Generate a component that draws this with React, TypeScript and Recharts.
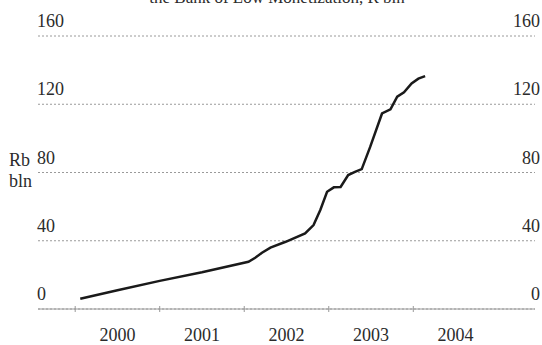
import { LineChart, Line, XAxis, YAxis, CartesianGrid } from 'recharts';

// decimal years and Rb bln
const times = [
  2000.06, 2000.5, 2001.0, 2001.5, 2002.05, 2002.13, 2002.21, 2002.31, 2002.49, 2002.72,
  2002.82, 2002.9, 2002.98, 2003.06, 2003.14, 2003.23, 2003.31, 2003.39, 2003.49, 2003.63,
  2003.73, 2003.81, 2003.89, 2003.98, 2004.06, 2004.14,
];
const values = [
  6, 11, 16.5, 21.5, 27.7, 30, 33, 36, 39.4, 44.3,
  49.2, 58, 68.7, 71.3, 71.5, 78.5, 80.4, 82, 95, 114.6,
  117, 124.4, 127, 132.2, 135, 136.5,
];
const yearTicks = [2000, 2001, 2002, 2003, 2004];
const yTicks = [0, 40, 80, 120, 160];

const title = 'the Bank of Low Monetization, R bln';

const W = 542;
const H = 345;
const margin = { top: 36, right: 7, bottom: 6, left: 37 };
const xAxisH = 30;
const xDomain: [number, number] = [1999.56, 2005.44];
const plotW = W - margin.left - margin.right - 1;
const plotBottom = H - margin.bottom - xAxisH;
const halfYear = plotW / (xDomain[1] - xDomain[0]) / 2;

const FONT = '"Liberation Serif", "Times New Roman", serif';
const INK = '#2b2b2b';

const data = times.map((t, i) => ({ t, v: values[i] }));

function YearTick(props: any) {
  const { x, payload } = props;
  return (
    <g>
      <line x1={x} x2={x} y1={plotBottom - 3} y2={plotBottom + 3} stroke="#999" strokeWidth={1} />
      <text x={x + halfYear} y={plotBottom + 32} textAnchor="middle" fontFamily={FONT} fontSize={18} fill={INK}>
        {payload.value}
      </text>
    </g>
  );
}

// same value is printed on both sides of the plot
function ValueTick(props: any) {
  const { y, payload } = props;
  return (
    <g>
      <text x={37} y={y - 9} textAnchor="start" fontFamily={FONT} fontSize={18} fill={INK}>
        {payload.value}
      </text>
      <text x={540} y={y - 9} textAnchor="end" fontFamily={FONT} fontSize={18} fill={INK}>
        {payload.value}
      </text>
    </g>
  );
}

export default function App() {
  return (
    <div style={{ position: 'absolute', left: 0, top: 0, width: W, height: H, background: '#fff' }}>
      <LineChart width={W} height={H} data={data} margin={margin}>
        <text x={277} y={3} textAnchor="middle" fontFamily={FONT} fontSize={17} fill={INK}>
          {title}
        </text>
        <CartesianGrid vertical={false} stroke="#9a9a9a" strokeDasharray="2 2" />
        <XAxis
          dataKey="t"
          type="number"
          domain={xDomain}
          ticks={yearTicks}
          height={xAxisH}
          tick={YearTick}
          tickLine={false}
          axisLine={{ stroke: '#9a9a9a', strokeWidth: 1 }}
          allowDataOverflow
        />
        <YAxis
          domain={[0, 160]}
          ticks={yTicks}
          width={1}
          tick={ValueTick}
          tickLine={false}
          axisLine={false}
          interval={0}
        />
        <Line
          dataKey="v"
          type="linear"
          stroke="#1a1a1a"
          strokeWidth={2.5}
          dot={false}
          isAnimationActive={false}
        />
      </LineChart>
      <div
        style={{
          position: 'absolute',
          left: 9,
          top: 150,
          fontFamily: FONT,
          fontSize: 18,
          lineHeight: '21px',
          color: INK,
        }}
      >
        Rb
        <br />
        bln
      </div>
    </div>
  );
}
